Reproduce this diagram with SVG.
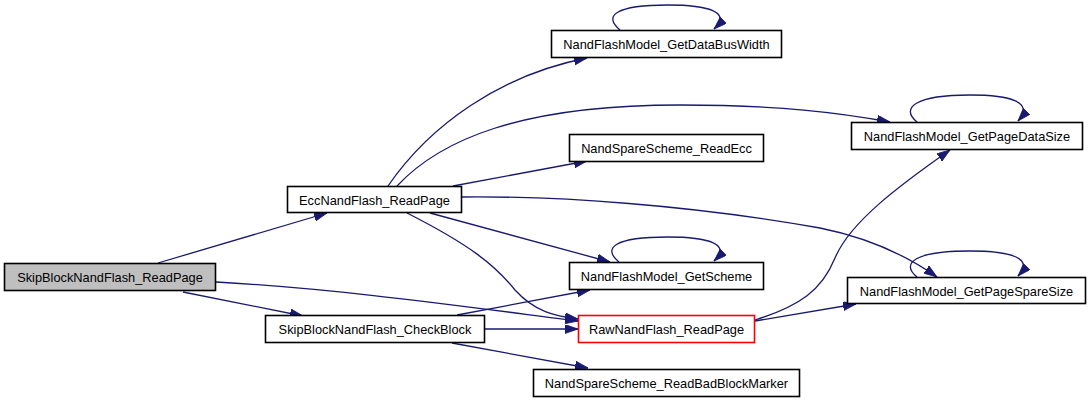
<svg xmlns="http://www.w3.org/2000/svg" width="1091" height="403" viewBox="0 0 1091 403">
<style>
.node rect{fill:#ffffff;stroke:#000000;stroke-width:1.6}
.node text{font-family:"Liberation Sans",Arial,sans-serif;font-size:12.8px;fill:#000000;text-anchor:middle}
.edge{fill:none;stroke:#191970;stroke-width:1.3;marker-end:url(#arr)}
</style>
<defs>
<marker id="arr" markerUnits="userSpaceOnUse" markerWidth="14" markerHeight="10" refX="13" refY="4.5" orient="auto">
<path d="M0,0 L13,4.5 L0,9 z" fill="#191970" stroke="#191970" stroke-width="0.8"/>
</marker>
</defs>
<rect width="1091" height="403" fill="#ffffff"/>
<g id="edges">
<path class="edge" d="M158,263 L327,213"/>
<path class="edge" d="M183,292 L303,316"/>
<path class="edge" d="M216,282 C340,289 460,306 578,321"/>
<path class="edge" d="M388,186 C430,125 500,75 587,58"/>
<path class="edge" d="M397,186 C440,140 520,105 680,105 C780,105 840,113 890,122"/>
<path class="edge" d="M453,186 L587,161"/>
<path class="edge" d="M462,197 C560,196 690,205 820,228 C870,238 910,258 937,277"/>
<path class="edge" d="M430,213 L610,262"/>
<path class="edge" d="M407,213 C470,245 495,265 515,290 C535,312 555,316 578,319"/>
<path class="edge" d="M457,315 L590,290"/>
<path class="edge" d="M485,329 L578,329"/>
<path class="edge" d="M452,343 L588,368"/>
<path class="edge" d="M755,320 C800,306 822,290 835,258 C850,222 900,185 950,150"/>
<path class="edge" d="M755,321 L856,304"/>
<path class="edge" d="M620,30 C603,16 615,5 668,5 C708,5 732,12 714,29"/>
<path class="edge" d="M619,262 C602,248 614,237 668,237 C708,237 732,244 714,261"/>
<path class="edge" d="M917,122 C900,108 915,95 970,95 C1010,95 1035,102 1018,121"/>
<path class="edge" d="M917,277 C900,263 915,251 970,251 C1010,251 1035,258 1018,276"/>
</g>
<g id="n_skipblock_readpage" class="node"><rect x="4.5" y="263.5" width="211" height="27" style="fill:#bfbfbf"/><text x="110" y="282">SkipBlockNandFlash_ReadPage</text></g>
<g id="n_ecc_readpage" class="node"><rect x="287.5" y="186.5" width="174" height="26"/><text x="374.5" y="204.5">EccNandFlash_ReadPage</text></g>
<g id="n_checkblock" class="node"><rect x="265.5" y="315.5" width="219" height="27"/><text x="375" y="334">SkipBlockNandFlash_CheckBlock</text></g>
<g id="n_databuswidth" class="node"><rect x="551.5" y="30.5" width="230" height="27"/><text x="666.5" y="49">NandFlashModel_GetDataBusWidth</text></g>
<g id="n_readecc" class="node"><rect x="569.5" y="134.5" width="194" height="27"/><text x="666.5" y="153">NandSpareScheme_ReadEcc</text></g>
<g id="n_getscheme" class="node"><rect x="569.5" y="262.5" width="194" height="27"/><text x="666.5" y="281">NandFlashModel_GetScheme</text></g>
<g id="n_raw_readpage" class="node"><rect x="578.5" y="315.5" width="176" height="27" style="stroke:#ff0000"/><text x="666.5" y="334">RawNandFlash_ReadPage</text></g>
<g id="n_badblockmarker" class="node"><rect x="533.5" y="369.5" width="266" height="27"/><text x="666.5" y="388">NandSpareScheme_ReadBadBlockMarker</text></g>
<g id="n_pagedatasize" class="node"><rect x="851.5" y="122.5" width="231" height="27"/><text x="967" y="141">NandFlashModel_GetPageDataSize</text></g>
<g id="n_pagesparesize" class="node"><rect x="847.5" y="277.5" width="238" height="26"/><text x="966.5" y="295.5">NandFlashModel_GetPageSpareSize</text></g>
</svg>
